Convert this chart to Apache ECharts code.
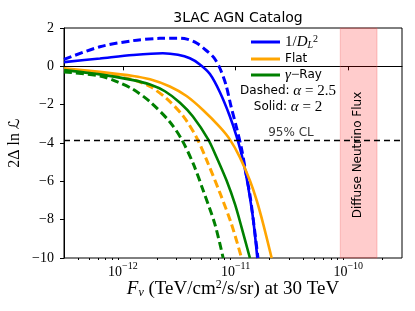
<!DOCTYPE html>
<html><head><meta charset="utf-8">
<script src="https://cdn.jsdelivr.net/npm/echarts@6/dist/echarts.min.js"></script>
<style>html,body{margin:0;padding:0;background:#fff}#c{width:415px;height:311px}</style>
</head><body><div id="c"></div>
<script>
const chartTitle = '3LAC AGN Catalog';
const xMin = 3e-13, xMax = 3e-10;
const xMajorTicks = [1e-12, 1e-11, 1e-10];
const xMinorTicks = [4e-13,5e-13,6e-13,7e-13,8e-13,9e-13,
  2e-12,3e-12,4e-12,5e-12,6e-12,7e-12,8e-12,9e-12,
  2e-11,3e-11,4e-11,5e-11,6e-11,7e-11,8e-11,9e-11,2e-10];
const yMin = -10, yMax = 2, yStep = 2;
const clLevel = -3.84;
const clText = '95% CL';
const bandRange = [8.5e-11, 1.8e-10];
const bandText = 'Diffuse Neutrino Flux';

const dlSolidX = [3.0e-13, 6.25e-13, 1.23e-12, 2.26e-12, 3.08e-12, 3.93e-12, 4.82e-12, 5.92e-12, 7.26e-12, 8.89e-12, 1.02e-11, 1.17e-11, 1.29e-11, 1.43e-11, 1.56e-11];
const dlSolidY = [0.22, 0.41, 0.59, 0.68, 0.60, 0.42, 0.10, -0.40, -1.35, -2.60, -3.65, -4.95, -6.25, -7.95, -10];
const dlDashX = [3.0e-13, 6.25e-13, 1.23e-12, 2.13e-12, 3.01e-12, 3.70e-12, 4.54e-12, 5.56e-12, 6.42e-12, 7.26e-12, 8.20e-12, 9.08e-12, 1.02e-11, 1.13e-11, 1.23e-11, 1.34e-11, 1.45e-11, 1.58e-11];
const dlDashY = [0.36, 1.02, 1.34, 1.46, 1.47, 1.42, 1.2, 0.8, 0.45, -0.1, -0.95, -2.05, -3.2, -4.3, -5.5, -6.7, -8.2, -10];
const flatSolidX = [3.0e-13, 6.25e-13, 1.23e-12, 1.74e-12, 2.61e-12, 3.67e-12, 5.16e-12, 7.26e-12, 8.89e-12, 1.09e-11, 1.34e-11, 1.54e-11, 1.76e-11, 2.09e-11];
const flatSolidY = [-0.10, -0.29, -0.5, -0.68, -1.05, -1.55, -2.29, -3.17, -3.81, -4.74, -5.96, -7.0, -8.23, -10];
const flatDashX = [3.0e-13, 6.25e-13, 1.23e-12, 1.74e-12, 2.46e-12, 3.43e-12, 4.54e-12, 5.68e-12, 7.26e-12, 9.22e-12, 1.13e-11];
const flatDashY = [-0.15, -0.38, -0.7, -1.05, -1.7, -2.6, -3.75, -5.05, -6.6, -8.25, -10];
const gammaSolidX = [3.0e-13, 6.25e-13, 1.23e-12, 1.74e-12, 2.36e-12, 3.21e-12, 4.18e-12, 5.71e-12, 6.78e-12, 8.32e-12, 9.86e-12, 1.13e-11, 1.34e-11];
const gammaSolidY = [-0.2, -0.42, -0.72, -0.95, -1.3, -1.9, -2.62, -3.81, -4.74, -5.96, -7.18, -8.4, -10];
const gammaDashX = [3.0e-13, 6.25e-13, 8.85e-13, 1.23e-12, 1.74e-12, 2.61e-12, 3.32e-12, 4.21e-12, 5.16e-12, 6.55e-12, 7.76e-12];
const gammaDashY = [-0.29, -0.5, -0.8, -1.2, -1.85, -2.9, -3.81, -5.08, -6.48, -8.23, -10];

const legendNames = ['dl', 'flat', 'gamma'];
const legendLabels = {
  dl: '{r|1/}{i|D}{sub|L}{sup|2}',
  flat: '{s|Flat}',
  gamma: '{i|γ}{r|−}{s|Ray}'
};
const noteDashed = '{s|Dashed:}{i| α}{r| = 2.5}';
const noteSolid = '{s|Solid:}{i| α}{r| = 2}';

const colBlue = '#0000ff', colOrange = '#ffa500', colGreen = '#008000';
const SERIF = 'Liberation Serif', SANS = 'DejaVu Sans';

function pairs(xs, ys) { return xs.map((x, i) => [x, ys[i]]); }
function lineSeries(name, xs, ys, color, dashed) {
  return {
    name: name, type: 'line', data: pairs(xs, ys), showSymbol: false, symbol: 'none',
    smooth: 0.3, z: dashed ? 3 : 4,
    lineStyle: { color: color, width: dashed ? 3 : 2.6, type: dashed ? [8, 4] : 'solid' },
    itemStyle: { color: color }
  };
}
const richText = {
  r: { fontFamily: SERIF, fontSize: 15, color: '#000', lineHeight: 16, height: 16 },
  i: { fontFamily: SERIF, fontStyle: 'italic', fontSize: 15, color: '#000', lineHeight: 16, height: 16 },
  s: { fontFamily: SANS, fontSize: 12, color: '#000', lineHeight: 16, height: 16 },
  sub: { fontFamily: SERIF, fontStyle: 'italic', fontSize: 10, color: '#000', lineHeight: 10, verticalAlign: 'bottom' },
  sup: { fontFamily: SERIF, fontSize: 10, color: '#000', lineHeight: 10, verticalAlign: 'top' }
};
function legendRow(name, top) {
  return {
    data: [name], orient: 'vertical', left: 251, top: top,
    itemWidth: 29, itemHeight: 3, itemGap: 0, icon: 'rect', padding: 0,
    formatter: n => legendLabels[n],
    textStyle: { fontFamily: SANS, fontSize: 12, color: '#000', lineHeight: 16, rich: richText }
  };
}

const chart = echarts.init(document.getElementById('c'), null, { renderer: 'canvas' });
const series = [
  lineSeries('dlDash', dlDashX, dlDashY, colBlue, true),
  lineSeries('flatDash', flatDashX, flatDashY, colOrange, true),
  lineSeries('gammaDash', gammaDashX, gammaDashY, colGreen, true),
  lineSeries('dl', dlSolidX, dlSolidY, colBlue, false),
  lineSeries('flat', flatSolidX, flatSolidY, colOrange, false),
  lineSeries('gamma', gammaSolidX, gammaSolidY, colGreen, false)
];
series[0].markArea = {
  silent: true,
  itemStyle: { color: 'rgba(255,0,0,0.2)', borderColor: 'rgba(240,100,100,0.35)', borderWidth: 1 },
  label: { show: true, position: 'inside', rotate: 90, offset: [-12, -1], fontFamily: SANS, fontSize: 12, color: '#000', formatter: bandText },
  data: [[{ xAxis: bandRange[0] }, { xAxis: bandRange[1] }]]
};
series[0].markLine = {
  silent: true, symbol: 'none',
  lineStyle: { color: '#000', width: 1.4, type: [6, 4] },
  label: { show: false },
  data: [{ yAxis: clLevel }]
};
series.push({
  name: 'clLabel', type: 'scatter', symbolSize: 0, silent: true,
  data: [[3.1e-11, clLevel]],
  label: { show: true, position: 'top', distance: 1, formatter: clText, fontFamily: SANS, fontSize: 12, color: '#000' }
});

chart.setOption({
  animation: false,
  backgroundColor: '#fff',
  title: {
    text: chartTitle, left: 233, top: 6, textAlign: 'center',
    textStyle: { fontFamily: SANS, fontSize: 14, fontWeight: 'normal', color: '#000' }
  },
  grid: { left: 64, right: 13, top: 28, bottom: 53, show: true, borderColor: '#000', borderWidth: 1, backgroundColor: 'transparent', containLabel: false, outerBoundsMode: 'none' },
  legend: [legendRow(legendNames[0], 34), legendRow(legendNames[1], 51), legendRow(legendNames[2], 67)],
  xAxis: [{
    type: 'log', min: xMin, max: xMax, logBase: 10, position: 'bottom',
    axisLine: { show: true, lineStyle: { color: '#000', width: 1 } },
    axisTick: { show: true, length: 4, customValues: xMajorTicks, lineStyle: { color: '#000' } },
    minorTick: { show: false },
    splitLine: { show: false },
    axisLabel: {
      show: true, margin: 3, customValues: xMajorTicks,
      formatter: v => '{b|10}{e|−' + (-Math.round(Math.log10(v))) + '}',
      rich: {
        b: { fontFamily: SERIF, fontSize: 14, color: '#000', lineHeight: 18, verticalAlign: 'bottom' },
        e: { fontFamily: SERIF, fontSize: 10, color: '#000', lineHeight: 11, verticalAlign: 'top' }
      }
    },
    name: '{i|F}{sub|ν}{r| (TeV/cm}{sup|2}{r|/s/sr) at 30 TeV}',
    nameLocation: 'middle', nameGap: 31, nameMoveOverlap: false,
    nameTextStyle: {
      verticalAlign: 'middle',
      rich: {
        r: { fontFamily: SERIF, fontSize: 19, color: '#000', lineHeight: 20 },
        i: { fontFamily: SERIF, fontStyle: 'italic', fontSize: 19, color: '#000', lineHeight: 20 },
        sub: { fontFamily: SERIF, fontStyle: 'italic', fontSize: 12, color: '#000', lineHeight: 12, verticalAlign: 'bottom' },
        sup: { fontFamily: SERIF, fontSize: 12, color: '#000', lineHeight: 12, verticalAlign: 'top' }
      }
    }
  }, {
    type: 'log', min: xMin, max: xMax, logBase: 10, position: 'bottom', gridIndex: 0,
    axisLine: { show: false },
    axisTick: { show: true, length: 2, customValues: xMinorTicks, lineStyle: { color: '#000' } },
    axisLabel: { show: false },
    splitLine: { show: false }
  }],
  yAxis: {
    type: 'value', min: yMin, max: yMax, interval: yStep,
    axisLine: { show: true, lineStyle: { color: '#000', width: 1 } },
    axisTick: { show: true, length: 4, lineStyle: { color: '#000' } },
    splitLine: { show: false },
    axisLabel: {
      margin: 10, fontFamily: SERIF, fontSize: 14, color: '#000',
      formatter: v => (v < 0 ? '−' + (-v) : String(v))
    },
    name: '{r|2Δ ln }{c|ℒ}', nameLocation: 'middle', nameGap: 41, nameRotate: 90, nameMoveOverlap: false,
    nameTextStyle: {
      rich: {
        r: { fontFamily: SERIF, fontSize: 16, color: '#000' },
        c: { fontFamily: 'DejaVu Sans', fontSize: 15, color: '#000' }
      }
    }
  },
  graphic: [
    { type: 'text', x: 288, y: 91, style: { text: noteDashed, align: 'center', verticalAlign: 'middle', rich: richText } },
    { type: 'text', x: 288, y: 107, style: { text: noteSolid, align: 'center', verticalAlign: 'middle', rich: richText } }
  ],
  series: series
});
</script></body></html>
